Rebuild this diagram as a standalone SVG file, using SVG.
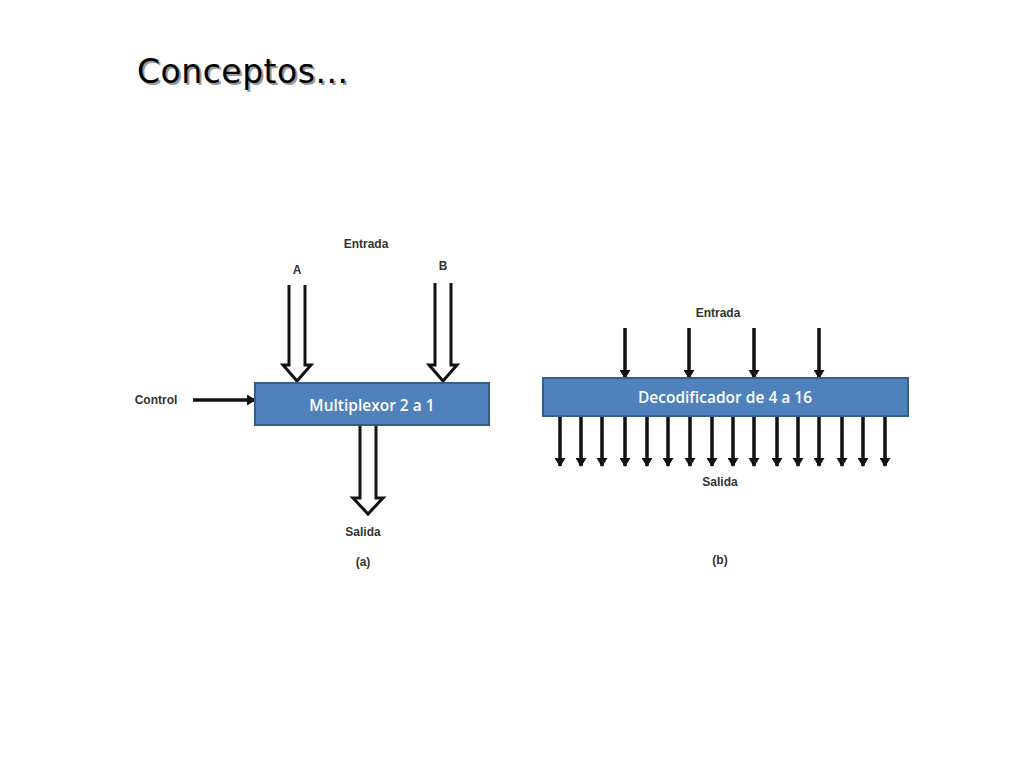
<svg xmlns="http://www.w3.org/2000/svg" width="1024" height="768" viewBox="0 0 1024 768">
<defs>
<marker id="ah" markerWidth="9" markerHeight="11" refX="8" refY="5.5" orient="auto" markerUnits="userSpaceOnUse">
<path d="M0,0 L9,5.5 L0,11 Z" fill="#111"/>
</marker>
</defs>
<style>
.lbl{font-family:"Liberation Sans",Arial,sans-serif;font-weight:bold;font-size:12px;fill:#333;text-anchor:middle}
.box{fill:#4F81BD;stroke:#385D8A;stroke-width:2}
.btxt{font-family:"Open Sans","Liberation Sans",sans-serif;font-weight:600;font-size:15.5px;fill:#fff;text-anchor:middle}
.hollow{fill:#fff;stroke:#111;stroke-width:3;stroke-linejoin:miter}
.thin{stroke:#111;stroke-width:3.5;fill:none}
</style>
<rect width="1024" height="768" fill="#fff"/>
<text x="139" y="85" font-family="DejaVu Sans,Verdana,sans-serif" font-size="33" fill="#999" textLength="211">Conceptos...</text>
<text x="137" y="83" font-family="DejaVu Sans,Verdana,sans-serif" font-size="33" fill="#000" textLength="211">Conceptos...</text>

<g id="connectors">
<path class="hollow" d="M289,285 L289,365 L283,365 L297,381 L311,365 L305,365 L305,285"/>
<path class="hollow" d="M435,283 L435,365 L429,365 L443,381 L457,365 L451,365 L451,283"/>
<path class="hollow" d="M360,426 L360,498 L353,498 L368,514 L383,498 L376,498 L376,426"/>
<line class="thin" x1="193" y1="400" x2="255" y2="400" marker-end="url(#ah)"/>
<g class="thin">
<line x1="625" y1="328" x2="625" y2="378" marker-end="url(#ah)"/>
<line x1="689" y1="328" x2="689" y2="378" marker-end="url(#ah)"/>
<line x1="754" y1="328" x2="754" y2="378" marker-end="url(#ah)"/>
<line x1="819" y1="328" x2="819" y2="378" marker-end="url(#ah)"/>
<line x1="560" y1="417" x2="560" y2="466" marker-end="url(#ah)"/>
<line x1="581" y1="417" x2="581" y2="466" marker-end="url(#ah)"/>
<line x1="602" y1="417" x2="602" y2="466" marker-end="url(#ah)"/>
<line x1="625" y1="417" x2="625" y2="466" marker-end="url(#ah)"/>
<line x1="647" y1="417" x2="647" y2="466" marker-end="url(#ah)"/>
<line x1="668" y1="417" x2="668" y2="466" marker-end="url(#ah)"/>
<line x1="690" y1="417" x2="690" y2="466" marker-end="url(#ah)"/>
<line x1="712" y1="417" x2="712" y2="466" marker-end="url(#ah)"/>
<line x1="733" y1="417" x2="733" y2="466" marker-end="url(#ah)"/>
<line x1="754" y1="417" x2="754" y2="466" marker-end="url(#ah)"/>
<line x1="777" y1="417" x2="777" y2="466" marker-end="url(#ah)"/>
<line x1="798" y1="417" x2="798" y2="466" marker-end="url(#ah)"/>
<line x1="819" y1="417" x2="819" y2="466" marker-end="url(#ah)"/>
<line x1="842" y1="417" x2="842" y2="466" marker-end="url(#ah)"/>
<line x1="863" y1="417" x2="863" y2="466" marker-end="url(#ah)"/>
<line x1="885" y1="417" x2="885" y2="466" marker-end="url(#ah)"/>
</g>
</g>

<g id="mux">
<rect class="box" x="255" y="383" width="234" height="42"/>
<text class="btxt" x="372" y="411">Multiplexor 2  a 1</text>
</g>
<g id="decoder">
<rect class="box" x="543" y="378" width="365" height="38"/>
<text class="btxt" x="725" y="403">Decodificador de 4 a 16</text>
</g>

<g id="labels">
<text class="lbl" x="366" y="248">Entrada</text>
<text class="lbl" x="297" y="274">A</text>
<text class="lbl" x="443" y="270">B</text>
<text class="lbl" x="156" y="404">Control</text>
<text class="lbl" x="363" y="536">Salida</text>
<text class="lbl" x="363" y="566" font-weight="normal">(a)</text>
<text class="lbl" x="718" y="317">Entrada</text>
<text class="lbl" x="720" y="486">Salida</text>
<text class="lbl" x="720" y="564" font-weight="normal">(b)</text>
</g>
</svg>
